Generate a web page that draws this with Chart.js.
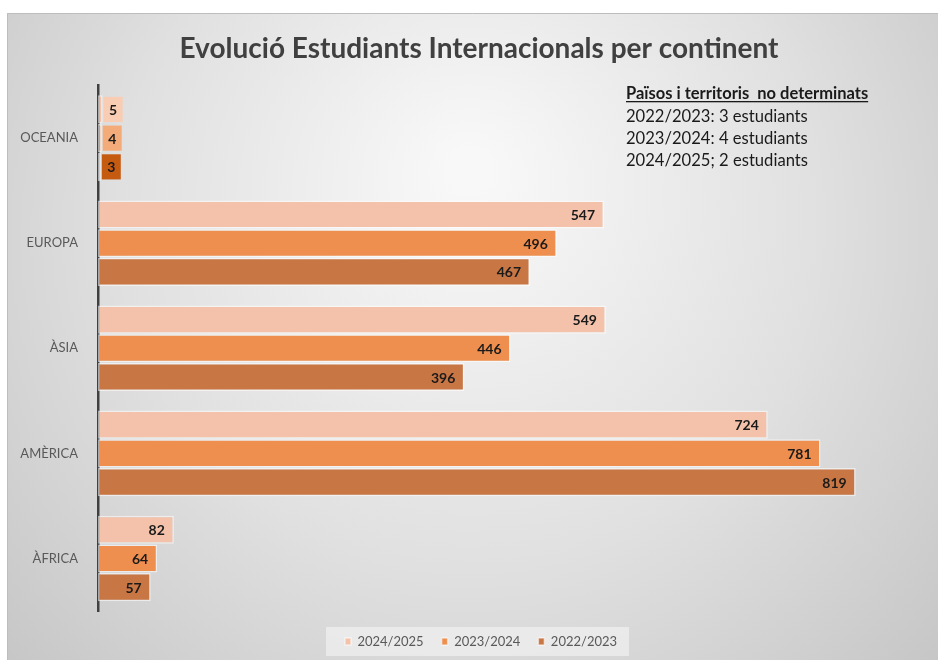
<!DOCTYPE html>
<html>
<head>
<meta charset="utf-8">
<script src="https://cdn.jsdelivr.net/npm/chart.js@4"></script>
<style>
  html, body { margin: 0; padding: 0; background: #ffffff; }
  #wrap { position: relative; width: 938px; height: 660px; }
</style>
</head>
<body>
<div id="wrap"><canvas id="c" width="938" height="660"></canvas></div>
<script>
const categories = ["OCEANIA", "EUROPA", "ÀSIA", "AMÈRICA", "ÀFRICA"];
const seriesNames = ["2024/2025", "2023/2024", "2022/2023"];
const values2024_2025 = [5, 547, 549, 724, 82];
const values2023_2024 = [4, 496, 446, 781, 64];
const values2022_2023 = [3, 467, 396, 819, 57];
const titleText = "Evolució Estudiants Internacionals per continent";
const noteTitle = "Països i territoris  no determinats";
const noteLines = ["2022/2023: 3 estudiants", "2023/2024: 4 estudiants", "2024/2025; 2 estudiants"];

const barColors = ["#f4c2ab", "#ee8f4f", "#c97645"];
const smallBoxColors = ["#f8cdb3", "#f3ab7a", "#c55a11"];

const bgPlugin = {
  id: "bg",
  afterLayout(chart) {
    const lg = chart.legend;
    if (lg) { lg.left += 2; lg.right += 2; }
  },
  beforeDraw(chart) {
    const ctx = chart.ctx;
    ctx.save();
    ctx.fillStyle = "#ffffff";
    ctx.fillRect(0, 0, chart.width, chart.height);
    const x0 = 7, y0 = 13, x1 = 938, y1 = 660;
    const g = ctx.createRadialGradient(470, 170, 20, 470, 260, 620);
    g.addColorStop(0, "#f8f8f8");
    g.addColorStop(0.55, "#e0e0e0");
    g.addColorStop(1, "#c6c6c6");
    ctx.fillStyle = g;
    ctx.fillRect(x0, y0, x1 - x0, y1 - y0);
    ctx.strokeStyle = "#bdbdbd";
    ctx.lineWidth = 1;
    ctx.beginPath();
    ctx.moveTo(x0 + 0.5, y1);
    ctx.lineTo(x0 + 0.5, y0 + 0.5);
    ctx.lineTo(x1, y0 + 0.5);
    ctx.stroke();
    const lg = chart.legend;
    if (lg && lg.legendHitBoxes && lg.legendHitBoxes.length) {
      const hb = lg.legendHitBoxes;
      const left = hb[0].left - 19;
      const right = hb[hb.length - 1].left + hb[hb.length - 1].width + 12;
      const top = hb[0].top - 8;
      const bottom = hb[0].top + hb[0].height + 8;
      ctx.fillStyle = "rgba(236,236,236,0.85)";
      ctx.fillRect(left, top, right - left, bottom - top);
    }
    ctx.restore();
  }
};

const labelPlugin = {
  id: "valueLabels",
  afterDatasetsDraw(chart) {
    const ctx = chart.ctx;
    ctx.save();
    ctx.font = "bold 14px Lato, 'Open Sans', sans-serif";
    ctx.textBaseline = "middle";
    chart.data.datasets.forEach((ds, di) => {
      const meta = chart.getDatasetMeta(di);
      meta.data.forEach((bar, i) => {
        const txt = String(ds.data[i]);
        const tw = ctx.measureText(txt).width;
        const w = bar.x - bar.base;
        if (w > tw + 16) {
          ctx.fillStyle = "#1a1a1a";
          ctx.textAlign = "right";
          ctx.fillText(txt, bar.x - 9, bar.y + 1);
        } else {
          const bw = 19, bh = bar.height - 3;
          const bx = bar.x + 1;
          ctx.fillStyle = smallBoxColors[di];
          ctx.fillRect(bx, bar.y - bh / 2, bw, bh);
          ctx.fillStyle = "#1a1a1a";
          ctx.textAlign = "center";
          ctx.fillText(txt, bx + bw / 2, bar.y + 1);
        }
      });
    });
    ctx.textAlign = "left";
    ctx.textBaseline = "alphabetic";
    ctx.fillStyle = "#1a1a1a";
    ctx.font = "bold 16.5px Lato, 'Open Sans', sans-serif";
    ctx.fillText(noteTitle, 626, 99);
    const tw = ctx.measureText(noteTitle).width;
    ctx.fillRect(626, 101, tw, 1.3);
    ctx.font = "16.6px Lato, 'Open Sans', sans-serif";
    noteLines.forEach((t, k) => ctx.fillText(t, 626, 122 + k * 22));
    ctx.restore();
  }
};

const seriesValues = [values2024_2025, values2023_2024, values2022_2023];

new Chart(document.getElementById("c"), {
  type: "bar",
  data: {
    labels: categories,
    datasets: seriesNames.map((n, k) => ({
      label: n,
      data: seriesValues[k],
      backgroundColor: barColors[k],
      borderColor: "rgba(255,255,255,0.55)",
      borderWidth: 1.5,
      borderSkipped: false,
      categoryPercentage: 0.82,
      barPercentage: 0.98
    }))
  },
  options: {
    indexAxis: "y",
    responsive: false,
    animation: false,
    events: [],
    devicePixelRatio: 1,
    layout: { padding: { top: 13, bottom: 2, left: 20, right: 0 } },
    scales: {
      x: {
        display: true,
        min: 0,
        max: 908,
        grid: { display: false, drawTicks: false },
        border: { display: false },
        ticks: { display: false },
        title: {
          display: true,
          text: " ",
          font: { size: 1, lineHeight: 1 },
          padding: { top: 5, bottom: 0 }
        }
      },
      y: {
        afterFit(scale) { scale.width = 78; },
        grid: { display: false, drawTicks: false },
        border: { display: true, color: "#404040", width: 2.5 },
        ticks: {
          padding: 20,
          color: "#595959",
          font: { family: "Lato, 'Open Sans', sans-serif", size: 13 }
        }
      }
    },
    plugins: {
      title: {
        display: true,
        text: titleText,
        color: "#404040",
        font: { family: "Lato, 'Open Sans', sans-serif", size: 28, weight: "bold" },
        padding: { top: 19, bottom: 20 }
      },
      legend: {
        position: "bottom",
        labels: {
          boxWidth: 6,
          boxHeight: 7,
          padding: 18,
          color: "#595959",
          font: { family: "Lato, 'Open Sans', sans-serif", size: 13 }
        }
      },
      tooltip: { enabled: false }
    }
  },
  plugins: [bgPlugin, labelPlugin]
});
</script>
</body>
</html>
